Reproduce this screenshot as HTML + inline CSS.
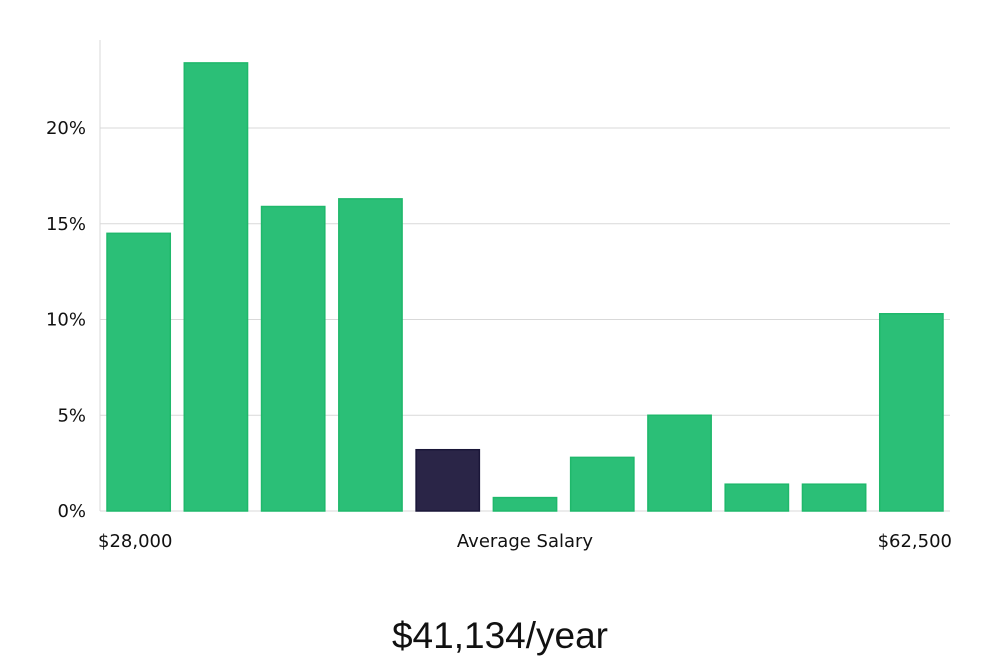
<!DOCTYPE html>
<html><head><meta charset="utf-8"><style>
body{margin:0;background:#fff;width:1000px;height:660px;overflow:hidden}
svg text{font-family:"DejaVu Sans","Liberation Sans",sans-serif;fill:#111}
</style></head><body>
<svg id="chart" width="1000" height="660" xmlns="http://www.w3.org/2000/svg">
<g id="grid"></g><g id="bars"></g><g id="axes"></g>
<text x="98" y="547" font-size="18">$28,000</text>
<text x="525" y="547" font-size="18" text-anchor="middle">Average Salary</text>
<text x="952" y="547" font-size="18" text-anchor="end">$62,500</text>
<text x="500" y="648" font-size="37" text-anchor="middle" style="font-family:'Liberation Sans',sans-serif;font-weight:300">$41,134/year</text>
</svg>
<script>
const categories=["b1","b2","b3","b4","b5","b6","b7","b8","b9","b10","b11"];
const values=[14.5,23.4,15.9,16.3,3.2,0.7,2.8,5.0,1.4,1.4,10.3];
const highlight=[false,false,false,false,true,false,false,false,false,false,false];
const yTicks=[0,5,10,15,20];
const ns="http://www.w3.org/2000/svg";
const x0=100,x1=950,y0=511,pxPer=19.15;
const y=v=>y0-v*pxPer;
const band=(x1-x0)/categories.length;
const xb=i=>x0+i*band;
function mk(t,a,p){const e=document.createElementNS(ns,t);for(const k in a)e.setAttribute(k,a[k]);p.appendChild(e);return e;}
const g=document.getElementById('grid');
yTicks.forEach(t=>{
 const l=mk('line',{x1:x0,x2:x1,y1:y(t),y2:y(t),stroke:'#d9d9d9','stroke-width':1},g);
 
 
 const tx=mk('text',{x:86,y:y(t)+6,'font-size':18,'text-anchor':'end'},g);
 tx.textContent=t+'%';
 
 
});
const b=document.getElementById('bars');
values.forEach((v,i)=>{
 const r=mk('rect',{x:xb(i)+7,y:y(v),width:band-14,height:y0-y(v),fill:highlight[i]?'#2a2547':'#2bbf77',stroke:highlight[i]?'#1a1638':'#1fb86b','stroke-width':1.5},b);
 
 
});
const a=document.getElementById('axes');
const ya=mk('line',{x1:x0,x2:x0,y1:40,y2:y0,stroke:'#d9d9d9','stroke-width':1},a);


</script>
</body></html>
